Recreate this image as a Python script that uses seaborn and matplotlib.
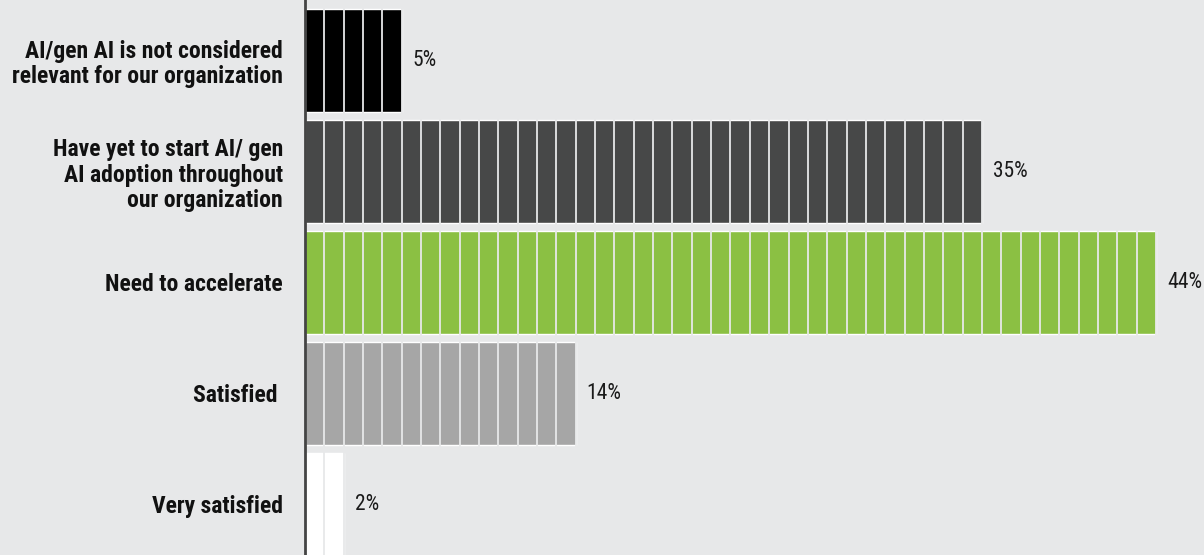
import matplotlib
matplotlib.use("Agg")
import matplotlib.pyplot as plt
from matplotlib import font_manager
import seaborn as sns
import pandas as pd

categories = [
    "AI/gen AI is not considered\nrelevant for our organization",
    "Have yet to start AI/ gen\nAI adoption throughout\nour organization",
    "Need to accelerate",
    "Satisfied ",
    "Very satisfied",
]
values = [5, 35, 44, 14, 2]
value_labels = ["5%", "35%", "44%", "14%", "2%"]
bar_colors = ["#000000", "#474848", "#8bc043", "#a6a6a6", "#ffffff"]

BG = "#e7e8e9"

sns.set_theme(style="white")
available = {f.name for f in font_manager.fontManager.ttflist}
narrow = next((n for n in ["Roboto Condensed", "Liberation Sans Narrow", "Roboto"]
               if n in available), "DejaVu Sans")
plt.rcParams["font.family"] = [narrow, "DejaVu Sans"]

df = pd.DataFrame({"category": categories, "value": values})

fig = plt.figure(figsize=(12.04, 5.55), dpi=100, facecolor=BG)
ax = fig.add_axes([305 / 1204, 0.0, 1 - 305 / 1204, 1.0])
ax.set_facecolor(BG)

sns.barplot(data=df, x="value", y="category", hue="category",
            palette=bar_colors, orient="h", width=0.935,
            legend=False, ax=ax, saturation=1, zorder=1)

# thin separators at every percentage point
for k in range(1, 47):
    ax.axvline(k, color=BG, lw=1.3, zorder=2)

ax.set_xlim(0, 899 / 19.34)
ax.set_ylim(4.455, -0.545)

for i, (v, lab) in enumerate(zip(values, value_labels)):
    ax.text(v + 11 / 19.34, i, lab, va="center", ha="left",
            fontsize=15.5, color="#1a1a1a", zorder=3)

ax.set_xlabel("")
ax.set_ylabel("")
ax.set_xticks([])
ax.tick_params(axis="y", length=0, pad=16)
for t in ax.get_yticklabels():
    t.set_fontsize(17)
    t.set_fontweight("black")
    t.set_color("#111111")
    t.set_linespacing(1.12)

for s in ["top", "right", "bottom"]:
    ax.spines[s].set_visible(False)
ax.spines["left"].set_color("#444444")
ax.spines["left"].set_linewidth(2)
ax.spines["left"].set_zorder(4)

fig.savefig("out.png", dpi=100, facecolor=BG)
